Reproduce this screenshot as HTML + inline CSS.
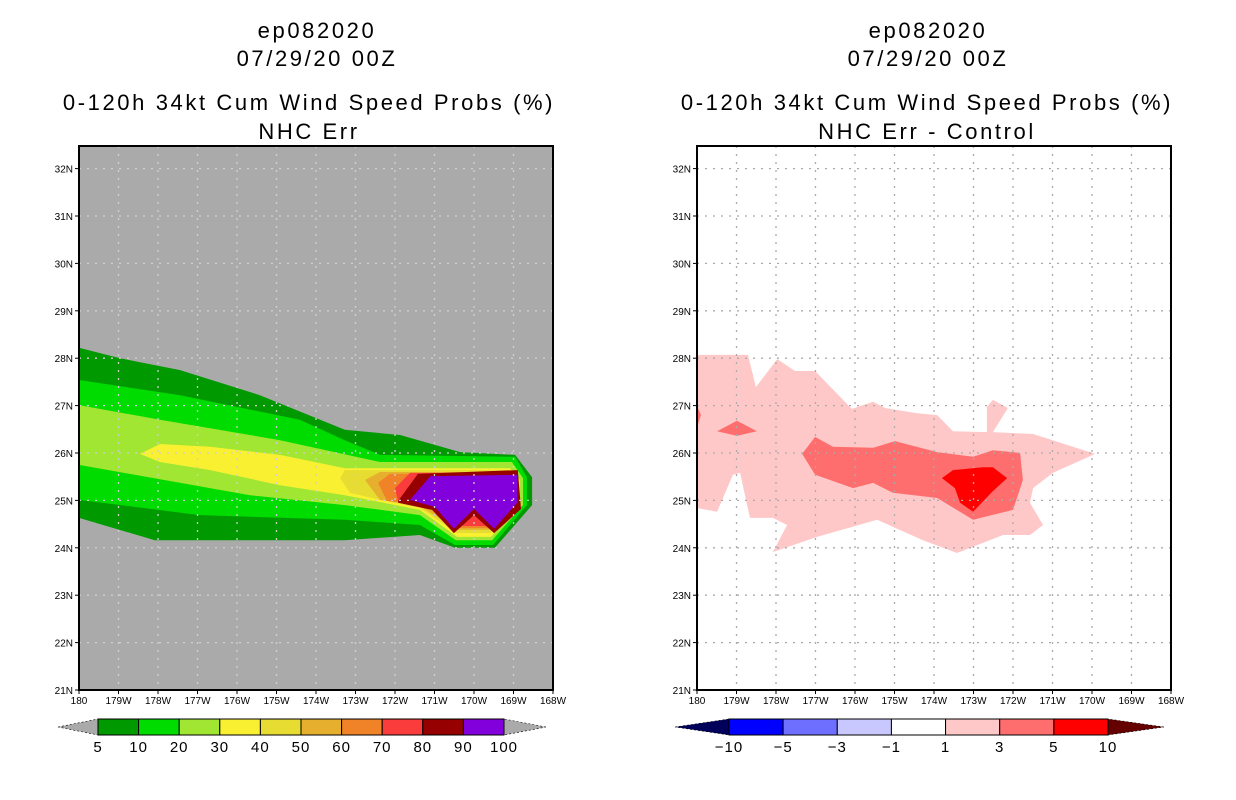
<!DOCTYPE html>
<html><head><meta charset="utf-8"><style>
html,body{margin:0;padding:0;background:#fff;}
svg{display:block;font-family:"Liberation Sans",sans-serif;}
.t{font-size:22px;text-anchor:middle;letter-spacing:2.6px;fill:#000;}
.tk{font-size:10px;fill:#000;}
.cb{font-size:15px;text-anchor:middle;fill:#000;letter-spacing:1px;}
</style></head><body>
<svg id="s" width="1236" height="800" viewBox="0 0 1236 800">
<text class="t" x="317" y="38">ep082020</text>
<text class="t" x="317" y="66">07/29/20 00Z</text>
<text class="t" x="309" y="110">0-120h 34kt Cum Wind Speed Probs (%)</text>
<text class="t" x="309" y="139">NHC Err</text>
<text class="t" x="928" y="38">ep082020</text>
<text class="t" x="928" y="66">07/29/20 00Z</text>
<text class="t" x="927" y="110">0-120h 34kt Cum Wind Speed Probs (%)</text>
<text class="t" x="927" y="139">NHC Err - Control</text>
<g id="L"></g>
<g id="R"></g>
<g id="CB"></g>
</svg>
<script>
// longitudes are degrees west of the dateline (0 = 180, 12 = 168W)
const lonTicks=["180","179W","178W","177W","176W","175W","174W","173W","172W","171W","170W","169W","168W"];
const latTicks=["21N","22N","23N","24N","25N","26N","27N","28N","29N","30N","31N","32N"];
const leftColors=["#009a00","#00dc00","#a0e632","#faf032","#e6dc32","#e6af2d","#f08228","#fa3c3c","#960000","#8200dc"];
const leftLevels=["5","10","20","30","40","50","60","70","80","90","100"];
const rightColors=["#0000ff","#6e6eff","#c8c8ff","#ffffff","#ffc8c8","#ff6e6e","#ff0000"];
const rightLevels=["\u221210","\u22125","\u22123","\u22121","1","3","5","10"];
// left contour polygons [degW, lat]
const p5=[[0,28.22],[1.04,28.0],[2.56,27.75],[4.58,27.22],[6.73,26.49],[8.13,26.38],[9.65,26.02],[11.04,25.96],[11.47,25.49],[11.47,24.9],[10.53,24.0],[9.52,24.0],[8.63,24.27],[6.73,24.16],[3.06,24.16],[1.92,24.16],[0,24.63]];
const p10=[[0,27.54],[2.56,27.22],[5.59,26.7],[6.73,26.27],[7.62,25.96],[11.04,25.92],[11.34,25.49],[11.34,24.9],[10.48,24.06],[9.52,24.06],[8.63,24.48],[6.73,24.59],[3.06,24.69],[0,25.01]];
const p20=[[0,27.01],[2.05,26.7],[5.09,26.27],[7.62,25.81],[10.96,25.81],[11.24,25.47],[11.24,24.9],[10.46,24.16],[9.54,24.16],[8.63,24.69],[6.73,24.9],[4.33,25.11],[0,25.75]];
const p30=[[1.54,25.98],[2.05,26.19],[3.32,26.13],[5.09,25.96],[6.73,25.68],[10.91,25.68],[11.16,25.43],[11.16,24.9],[10.43,24.23],[9.57,24.23],[8.63,24.8],[6.73,25.11],[5.09,25.32],[3.32,25.64],[2.05,25.81]];
const p40=[[6.61,25.47],[6.73,25.64],[10.91,25.64],[11.11,25.43],[11.11,24.9],[10.41,24.31],[9.57,24.31],[8.63,24.84],[7.62,25.01],[6.86,25.16]];
const p50=[[7.24,25.43],[7.62,25.6],[11.04,25.6],[11.06,24.9],[10.38,24.38],[9.59,24.38],[8.63,24.88],[7.62,25.01]];
const p60=[[7.57,25.37],[7.87,25.56],[11.04,25.56],[11.06,24.9],[10.35,24.42],[9.6,24.42],[8.8,24.9],[7.8,24.99]];
const p70=[[8.0,25.26],[8.38,25.58],[11.06,25.58],[11.06,24.9],[10.33,24.46],[9.62,24.46],[8.96,24.88],[8.08,24.97]];
const p80=[[8.08,24.99],[8.58,25.56],[11.11,25.64],[11.19,24.82],[10.51,24.31],[10.0,24.69],[9.49,24.31],[8.94,24.8],[8.08,24.95]];
const p90=[[8.38,25.01],[8.89,25.51],[11.09,25.54],[11.09,24.95],[10.51,24.4],[10.0,24.82],[9.49,24.4],[9.01,24.86]];
const leftPolys=[p5,p10,p20,p30,p40,p50,p60,p70,p80,p90];
// right difference contours
const r1=[[0,28.07],[1.29,28.07],[1.49,27.39],[2.03,27.98],[2.48,27.73],[2.99,27.73],[3.92,26.93],[4.46,27.08],[4.76,26.95],[5.57,26.84],[6.08,26.8],[6.48,26.46],[7.34,26.44],[7.34,26.97],[7.49,27.12],[7.87,26.95],[7.49,26.44],[8.51,26.4],[10.08,25.98],[9.01,25.58],[8.51,25.26],[8.43,24.95],[8.76,24.48],[8.43,24.27],[7.75,24.27],[6.58,23.89],[5.72,24.16],[4.56,24.59],[3.04,24.23],[1.92,23.91],[2.28,24.48],[1.92,24.63],[1.34,24.63],[1.09,25.58],[0.91,25.54],[0.51,24.76],[0,24.84]];
const r3a=[[2.66,25.98],[2.99,26.34],[3.44,26.13],[4.46,26.11],[5.01,26.25],[6.08,26.02],[6.99,25.92],[7.49,26.06],[8.18,26.0],[8.25,25.43],[8.0,24.8],[6.99,24.59],[6.08,25.05],[4.96,25.16],[4.46,25.37],[3.95,25.26],[2.99,25.54]];
const r3b=[[0.51,26.46],[1.01,26.68],[1.52,26.46],[1.01,26.36]];
const r3c=[[0,27.0],[0.1,26.8],[0,26.55]];
const r5=[[6.2,25.47],[6.48,25.64],[7.24,25.7],[7.49,25.7],[7.85,25.47],[7.47,25.18],[6.99,24.76],[6.66,24.95],[6.53,25.26]];
const rightPolys=[[r1,"#ffc8c8"],[r3a,"#ff6e6e"],[r3b,"#ff6e6e"],[r3c,"#ff6e6e"],[r5,"#ff0000"]];

const NS="http://www.w3.org/2000/svg";
function mk(t,a,p){const e=document.createElementNS(NS,t);for(const k in a)e.setAttribute(k,a[k]);p.appendChild(e);return e;}
const W=474,T=146,B=690;
function xs(x0){return d=>x0+d*W/12;}
function ys(lat){return B-(lat-21)*47.4;}
function pts(poly,X){return poly.map(p=>X(p[0]).toFixed(1)+","+ys(p[1]).toFixed(1)).join(" ");}
function frame(g,x0,bg,side){
  const X=xs(x0);
  const r=mk("rect",{x:x0,y:T,width:W,height:B-T,fill:bg},g);
  
  
  return X;
}
function grid(g,X,x0,col,side){
  for(let i=1;i<12;i++){const l=mk("line",{x1:X(i),x2:X(i),y1:T,y2:B,stroke:col,"stroke-dasharray":"2,6","stroke-width":1.3},g);
    
    }
  for(let j=1;j<12;j++){const l=mk("line",{x1:x0,x2:x0+W,y1:ys(21+j),y2:ys(21+j),stroke:col,"stroke-dasharray":"2,6","stroke-width":1.3},g);
    
    }
}
function axes(g,X,x0,side){
  const b=mk("rect",{x:x0,y:T,width:W,height:B-T,fill:"none",stroke:"#000","stroke-width":2},g);
  
  
  lonTicks.forEach((s,i)=>{mk("line",{x1:X(i),x2:X(i),y1:B,y2:B+4,stroke:"#000"},g);
    const t=mk("text",{x:X(i),y:B+14,class:"tk","text-anchor":"middle"},g);t.textContent=s;
    
    });
  latTicks.forEach((s,j)=>{const y=ys(21+j);mk("line",{x1:x0-4,x2:x0,y1:y,y2:y,stroke:"#000"},g);
    const t=mk("text",{x:x0-6,y:y+4,class:"tk","text-anchor":"end"},g);t.textContent=s;
    
    });
}
const gL=document.getElementById("L");
const XL=frame(gL,79,"#aaaaaa","left");
leftPolys.forEach((p,i)=>{const e=mk("polygon",{points:pts(p,XL),fill:leftColors[i]},gL);
  
  });
grid(gL,XL,79,"#cfcfcf","left");
axes(gL,XL,79,"left");
const gR=document.getElementById("R");
const XR=frame(gR,697,"#ffffff","right");
rightPolys.forEach(([p,c])=>{const e=mk("polygon",{points:pts(p,XR),fill:c},gR);
  
  });
grid(gR,XR,697,"#aaaaaa","right");
axes(gR,XR,697,"right");
const gC=document.getElementById("CB");
function cbar(x0,x1,tl,tr,cols,labs,lc,rc,side){
  const y0=719,y1=735,ym=727,n=cols.length,w=(x1-x0)/n;
  const a=mk("polygon",{points:`${tl},${ym} ${x0},${y0} ${x0},${y1}`,fill:lc,stroke:"#000","stroke-width":0.6,"stroke-dasharray":"2,2"},gC);
  
  
  const b=mk("polygon",{points:`${tr},${ym} ${x1},${y0} ${x1},${y1}`,fill:rc,stroke:"#000","stroke-width":0.6,"stroke-dasharray":"2,2"},gC);
  
  
  cols.forEach((c,i)=>{const r=mk("rect",{x:x0+i*w,y:y0,width:w,height:y1-y0,fill:c,stroke:"#000","stroke-width":1},gC);
    
    });
  labs.forEach((s,i)=>{const t=mk("text",{x:x0+i*w,y:y1+17,class:"cb"},gC);t.textContent=s;
    
    });
}
cbar(98,504,58,546,leftColors,leftLevels,"#aaaaaa","#aaaaaa","left");
cbar(729,1108,675,1164,rightColors,rightLevels,"#00005a","#640000","right");
</script>
</body></html>
